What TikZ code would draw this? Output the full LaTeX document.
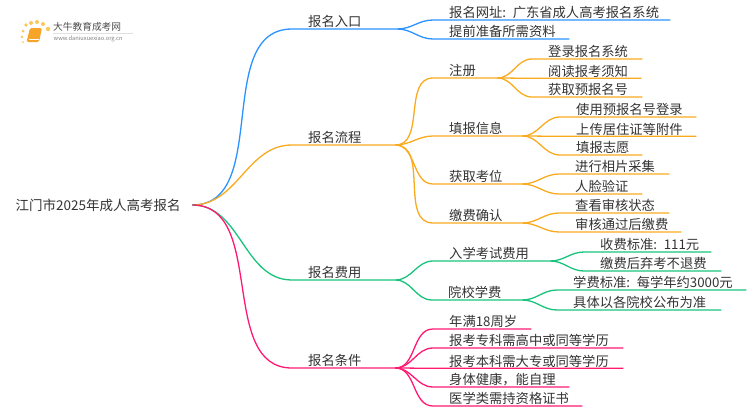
\documentclass[tikz,border=0pt]{standalone}
\usepackage{fontspec}
\setmainfont{Noto Sans CJK SC}[WordSpace=0.4]
\usepackage{xcolor}
\usetikzlibrary{positioning,calc}
\definecolor{entryblue}{RGB}{42,147,255}
\definecolor{flowamber}{RGB}{250,170,30}
\definecolor{feegreen}{RGB}{25,195,125}
\definecolor{condpink}{RGB}{255,25,115}
\definecolor{inkgray}{RGB}{51,51,51}
\definecolor{bookorange}{RGB}{247,165,40}
\definecolor{dotyellow}{RGB}{250,200,90}

\begin{document}
\begin{tikzpicture}[
    x=1pt, y=-1pt,
    root/.style={anchor=west, inner ysep=0pt, inner xsep=11.5pt, text=inkgray, font=\fontsize{13.5}{16}\selectfont},
    item/.style={anchor=south west, inner xsep=0pt, inner ysep=2pt, text depth=0pt, text height=10pt, text=inkgray, font=\fontsize{13.3}{16}\selectfont, execute at begin node={\hspace*{16pt}}},
    link/.style={line width=1.3pt}
]
    \useasboundingbox (0,0) rectangle (750,410);

    % logo
    \foreach \dotx/\doty/\dotr in {22/37/1.3, 23/31/1.5, 26/25/1.8, 31/23/2, 37/22/2, 43/24/2, 48/29/2.2, 23/42/1}
        \fill[dotyellow] (\dotx,\doty) circle (\dotr);
    \fill[bookorange, rounded corners=1.5pt] (30,28) -- (42,28) -- (39,42) -- (26.5,42) -- cycle;
    \draw[white, line width=0.5pt] (28.5,39.5) -- (39,39.5);
    \draw[black!12, line width=0.5pt] (53,33.5) -- (133,33.5);
    \node[inner sep=0pt, anchor=west, text=black!70, font=\fontsize{9.7}{11}\selectfont] (logoname) at (53,27) {大牛教育成考网};
    \node[inner sep=0pt, anchor=west, text=black!50, font=\fontsize{5.7}{7}\selectfont] (logourl) at (53.5,39) {www.daniuxuexiao.org.cn};

    \node[root] (exam) at (4,205) {江门市2025年成人高考报名};

    \node[item, text width=105pt] (entry) at (292,29) {报名入口};
    \node[item, text width=237pt] (site) at (433,20) {报名网址: 广东省成人高考报名系统};
    \node[item, text width=136pt] (docs) at (433,39) {提前准备所需资料};

    \node[item, text width=103pt] (flow) at (292,145) {报名流程};
    \node[item, text width=64pt] (signup) at (433,78) {注册};
    \node[item, text width=110pt] (login) at (532,59) {登录报名系统};
    \node[item, text width=109pt] (notice) at (532,78.3) {阅读报考须知};
    \node[item, text width=110pt] (prereg) at (532,97) {获取预报名号};
    \node[item, text width=89pt] (info) at (433,136) {填报信息};
    \node[item, text width=136pt] (usenum) at (560,117) {使用预报名号登录};
    \node[item, text width=136pt] (upload) at (560,136.3) {上传居住证等附件};
    \node[item, text width=82pt] (wish) at (560,155) {填报志愿};
    \node[item, text width=89pt] (seat) at (433,184) {获取考位};
    \node[item, text width=110pt] (photo) at (559,174) {进行相片采集};
    \node[item, text width=83pt] (face) at (559,194) {人脸验证};
    \node[item, text width=89pt] (confirm) at (433,223) {缴费确认};
    \node[item, text width=110pt] (status) at (559,213) {查看审核状态};
    \node[item, text width=122pt] (paid) at (559,232) {审核通过后缴费};

    \node[item, text width=103pt] (fee) at (292,280) {报名费用};
    \node[item, text width=117pt] (testfee) at (433,261) {入学考试费用};
    \node[item, text width=127pt] (rate) at (584,252) {收费标准: 111元};
    \node[item, text width=137pt] (norefund) at (584,271) {缴费后弃考不退费};
    \node[item, text width=90pt] (tuition) at (432,300) {院校学费};
    \node[item, text width=189pt] (yearly) at (557,290) {学费标准: 每学年约3000元};
    \node[item, text width=164pt] (school) at (557,310) {具体以各院校公布为准};

    \node[item, text width=103pt] (cond) at (292,368) {报名条件};
    \node[item, text width=98pt] (age) at (433,329) {年满18周岁};
    \node[item, text width=190pt] (junior) at (433,348) {报考专科需高中或同等学历};
    \node[item, text width=190pt] (senior) at (433,368.3) {报考本科需大专或同等学历};
    \node[item, text width=136pt] (health) at (433,387) {身体健康，能自理};
    \node[item, text width=149pt] (medical) at (433,406) {医学类需持资格证书};

    \draw[link, entryblue] (exam.east) to[out=0, in=180] (entry.south west) -- (entry.south east);
    \draw[link, entryblue] (entry.south east) to[out=0, in=180] (site.south west) -- (site.south east);
    \draw[link, entryblue] (entry.south east) to[out=0, in=180] (docs.south west) -- (docs.south east);

    \draw[link, flowamber] (exam.east) to[out=0, in=180] (flow.south west) -- (flow.south east);
    \draw[link, flowamber] (flow.south east) to[out=0, in=180] (signup.south west) -- (signup.south east);
    \draw[link, flowamber] (flow.south east) to[out=0, in=180] (info.south west) -- (info.south east);
    \draw[link, flowamber] (flow.south east) to[out=0, in=180] (seat.south west) -- (seat.south east);
    \draw[link, flowamber] (flow.south east) to[out=0, in=180] (confirm.south west) -- (confirm.south east);
    \draw[link, flowamber] (signup.south east) to[out=0, in=180] (login.south west) -- (login.south east);
    \draw[link, flowamber] (signup.south east) to[out=0, in=180] (notice.south west) -- (notice.south east);
    \draw[link, flowamber] (signup.south east) to[out=0, in=180] (prereg.south west) -- (prereg.south east);
    \draw[link, flowamber] (info.south east) to[out=0, in=180] (usenum.south west) -- (usenum.south east);
    \draw[link, flowamber] (info.south east) to[out=0, in=180] (upload.south west) -- (upload.south east);
    \draw[link, flowamber] (info.south east) to[out=0, in=180] (wish.south west) -- (wish.south east);
    \draw[link, flowamber] (seat.south east) to[out=0, in=180] (photo.south west) -- (photo.south east);
    \draw[link, flowamber] (seat.south east) to[out=0, in=180] (face.south west) -- (face.south east);
    \draw[link, flowamber] (confirm.south east) to[out=0, in=180] (status.south west) -- (status.south east);
    \draw[link, flowamber] (confirm.south east) to[out=0, in=180] (paid.south west) -- (paid.south east);

    \draw[link, feegreen] (exam.east) to[out=0, in=180] (fee.south west) -- (fee.south east);
    \draw[link, feegreen] (fee.south east) to[out=0, in=180] (testfee.south west) -- (testfee.south east);
    \draw[link, feegreen] (fee.south east) to[out=0, in=180] (tuition.south west) -- (tuition.south east);
    \draw[link, feegreen] (testfee.south east) to[out=0, in=180] (rate.south west) -- (rate.south east);
    \draw[link, feegreen] (testfee.south east) to[out=0, in=180] (norefund.south west) -- (norefund.south east);
    \draw[link, feegreen] (tuition.south east) to[out=0, in=180] (yearly.south west) -- (yearly.south east);
    \draw[link, feegreen] (tuition.south east) to[out=0, in=180] (school.south west) -- (school.south east);

    \draw[link, condpink] (exam.east) to[out=0, in=180] (cond.south west) -- (cond.south east);
    \draw[link, condpink] (cond.south east) to[out=0, in=180] (age.south west) -- (age.south east);
    \draw[link, condpink] (cond.south east) to[out=0, in=180] (junior.south west) -- (junior.south east);
    \draw[link, condpink] (cond.south east) to[out=0, in=180] (senior.south west) -- (senior.south east);
    \draw[link, condpink] (cond.south east) to[out=0, in=180] (health.south west) -- (health.south east);
    \draw[link, condpink] (cond.south east) to[out=0, in=180] (medical.south west) -- (medical.south east);
\end{tikzpicture}
\end{document}
